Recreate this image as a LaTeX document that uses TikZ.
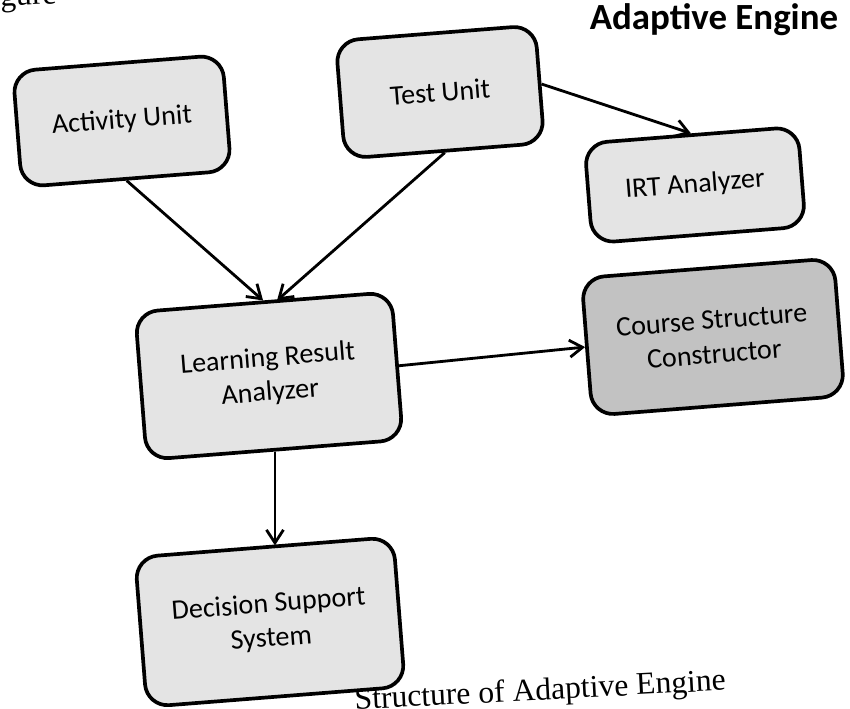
\documentclass[tikz,border=0pt]{standalone}
\usepackage{fontspec}
\setmainfont{Liberation Serif}
\newfontfamily\boxfont{Carlito}
\usetikzlibrary{arrows.meta, positioning}
\definecolor{scangray}{RGB}{228,228,228}

\begin{document}
\begin{tikzpicture}[x=0.02cm, y=-0.02cm,
  box/.style={draw, line width=2.1pt, rounded corners=0.45cm, fill=scangray, align=center,
    font=\boxfont\fontsize{16}{19.5}\selectfont, rotate=4.5, inner sep=2pt},
  link/.style={-{Straight Barb[length=2.6mm, width=3.4mm]}, line width=1.6pt}]
\useasboundingbox (0,0) rectangle (850,709);
\node[font=\fontsize{18}{22}\selectfont, anchor=base east, rotate=3] (fig) at (63,3) {Figure};
\node[font=\fontsize{18}{22}\selectfont, anchor=base west, rotate=3] (cap) at (349,710) {Structure of Adaptive Engine};
\node[font=\boxfont\bfseries\fontsize{21}{25}\selectfont, anchor=base] (title) at (714,30) {Adaptive Engine};
\node[box, minimum width=4.2cm, minimum height=2.32cm] (act) at (122,121) {Activity Unit};
\node[box, minimum width=4.0cm, minimum height=2.36cm] (test) at (440,92) {Test Unit};
\node[box, minimum width=4.28cm, minimum height=2.0cm] (irt) at (695,185) {IRT Analyzer};
\node[box, minimum width=5.14cm, minimum height=2.96cm] (lra) at (269,376) {Learning Result\\Analyzer};
\node[box, minimum width=5.06cm, minimum height=2.76cm, fill=scangray!85!black] (csc) at (713,337) {Course Structure\\Constructor};
\node[box, minimum width=5.18cm, minimum height=3.0cm] (dss) at (270,622) {Decision Support\\System};
\draw[link] (act.south) -- (lra.north);
\draw[link] (test.south) -- ([xshift=0.28cm]lra.north);
\draw[link] (test.east) -- (irt.north);
\draw[link] (lra.east) -- (csc.west);
\draw[link] (lra.south) -- (lra.south |- dss.north);
\end{tikzpicture}
\end{document}
